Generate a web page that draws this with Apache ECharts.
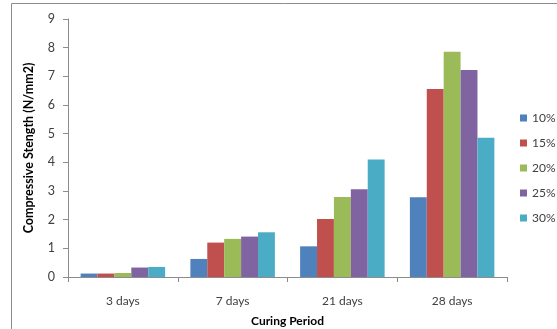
<!DOCTYPE html>
<html><head><meta charset="utf-8">
<script src="https://cdn.jsdelivr.net/npm/echarts@6/dist/echarts.min.js"></script>
<style>html,body{margin:0;padding:0;background:#fff}#c{width:557px;height:329px}</style>
</head><body><div id="c"></div>
<script>
const categories = ['3 days', '7 days', '21 days', '28 days'];
const seriesNames = ['10%', '15%', '20%', '25%', '30%'];
const s10 = [0.12, 0.63, 1.07, 2.78];
const s15 = [0.12, 1.20, 2.02, 6.56];
const s20 = [0.14, 1.33, 2.79, 7.86];
const s25 = [0.33, 1.41, 3.06, 7.22];
const s30 = [0.35, 1.56, 4.10, 4.86];
const yTicks = [0, 1, 2, 3, 4, 5, 6, 7, 8, 9];
const colors = ['#4F81BD', '#C0504D', '#9BBB59', '#8064A2', '#4BACC6'];
const values = [s10, s15, s20, s25, s30];
const font = 'Lato, "Open Sans", sans-serif';
const chart = echarts.init(document.getElementById('c'));
chart.setOption({
  animation: false,
  textStyle: {fontFamily: font},
  graphic: [{type: 'rect', shape: {x: 11.5, y: 3.5, width: 600, height: 400}, style: {fill: 'none', stroke: '#8c8c8c', lineWidth: 1}, silent: true}],
  grid: {left: 68, right: 50, top: 19, bottom: 52, containLabel: false, outerBoundsMode: 'none'},
  legend: {
    orient: 'vertical', left: 515, top: 107, itemWidth: 7, itemHeight: 7, itemGap: 13,
    icon: 'rect', textStyle: {fontFamily: font, fontSize: 12, color: '#404040'},
    data: seriesNames
  },
  xAxis: {
    type: 'category', data: categories,
    name: 'Curing Period', nameLocation: 'middle', nameGap: 38,
    nameTextStyle: {fontFamily: font, fontSize: 12, fontWeight: 'bold', color: '#000'},
    axisLine: {lineStyle: {color: '#8c8c8c'}},
    axisTick: {show: true, length: 5, lineStyle: {color: '#8c8c8c'}},
    axisLabel: {fontFamily: font, fontSize: 12, color: '#404040', margin: 18}
  },
  yAxis: {
    type: 'value', min: 0, max: 9, interval: 1,
    name: 'Compressive Stength (N/mm2)', nameLocation: 'middle', nameGap: 33, nameRotate: 90,
    nameTextStyle: {fontFamily: font, fontSize: 12.5, fontWeight: 'bold', color: '#000'},
    axisLine: {show: true, lineStyle: {color: '#8c8c8c'}},
    axisTick: {show: true, length: 5, lineStyle: {color: '#8c8c8c'}},
    splitLine: {show: false},
    axisLabel: {fontFamily: font, fontSize: 12.5, color: '#404040', margin: 13,
      formatter: v => yTicks.includes(v) ? String(v) : ''}
  },
  series: seriesNames.map((n, i) => ({
    name: n, type: 'bar', data: values[i], barGap: '0%', barCategoryGap: '23%',
    itemStyle: {color: colors[i]}
  }))
});
</script></body></html>
